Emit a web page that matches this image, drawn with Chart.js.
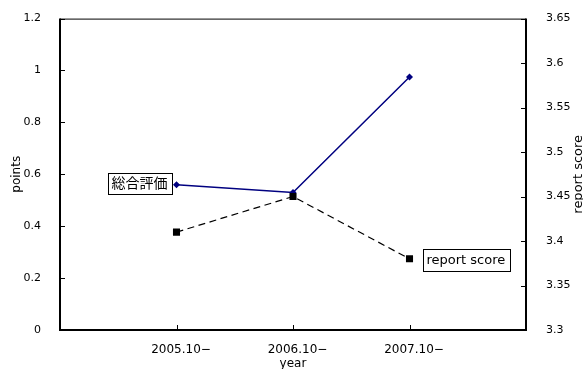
<!DOCTYPE html>
<html>
<head>
<meta charset="utf-8">
<script src="https://cdn.jsdelivr.net/npm/chart.js@4/dist/chart.umd.min.js"></script>
<style>
  html, body { margin: 0; padding: 0; background: #fff; }
  #wrap { width: 583px; height: 369px; }
</style>
</head>
<body>
<div id="wrap"><canvas id="c" width="583" height="369"></canvas></div>
<script>
// Survey years on the horizontal axis
const categories = ['2005.10\u2212', '2006.10\u2212', '2007.10\u2212'];
// Overall evaluation (left axis, points)
const overallValues = [0.56, 0.53, 0.975];
// Report score (right axis)
const reportValues = [3.41, 3.45, 3.38];
// Axis tick labels
const leftTicks = [0, 0.2, 0.4, 0.6, 0.8, 1, 1.2];
const rightTicks = [3.3, 3.35, 3.4, 3.45, 3.5, 3.55, 3.6, 3.65];

const overallName = '総合評価';
const reportName = 'report score';

const FONT = 'DejaVu Sans, "Noto Sans CJK JP", sans-serif';

const toPoints = vals => vals.map((v, i) => ({ x: i + 1, y: v }));

// Frame, inner tick marks, axis titles and boxed series labels
const decor = {
  id: 'decor',
  beforeDatasetsDraw(chart) {
    const ctx = chart.ctx;
    const a = chart.chartArea;
    const sx = chart.scales.x, sy = chart.scales.y, sy2 = chart.scales.y2;
    ctx.save();
    ctx.strokeStyle = '#000';
    // top edge (thin)
    ctx.lineWidth = 1;
    ctx.beginPath();
    ctx.moveTo(a.left, a.top + 0.5);
    ctx.lineTo(a.right, a.top + 0.5);
    ctx.stroke();
    // left, bottom, right edges
    ctx.lineWidth = 2;
    ctx.beginPath();
    ctx.moveTo(a.left, a.top);
    ctx.lineTo(a.left, a.bottom);
    ctx.lineTo(a.right, a.bottom);
    ctx.lineTo(a.right, a.top);
    ctx.stroke();
    // tick marks pointing into the plot
    ctx.lineWidth = 1;
    ctx.beginPath();
    sy.ticks.forEach(t => {
      const p = Math.round(sy.getPixelForValue(t.value)) + 0.5;
      ctx.moveTo(a.left, p); ctx.lineTo(a.left + 5, p);
    });
    sy2.ticks.forEach(t => {
      const p = Math.round(sy2.getPixelForValue(t.value)) + 0.5;
      ctx.moveTo(a.right, p); ctx.lineTo(a.right - 5, p);
    });
    sx.ticks.forEach(t => {
      const p = Math.round(sx.getPixelForValue(t.value)) + 0.5;
      ctx.moveTo(p, a.bottom); ctx.lineTo(p, a.bottom - 5);
    });
    ctx.stroke();

    // axis titles
    ctx.fillStyle = '#000';
    ctx.textAlign = 'center';
    ctx.textBaseline = 'middle';
    ctx.font = '12px ' + FONT;
    ctx.fillText('year', (a.left + a.right) / 2, 364);
    ctx.save();
    ctx.translate(17, (a.top + a.bottom) / 2);
    ctx.rotate(-Math.PI / 2);
    ctx.fillText('points', 0, 0);
    ctx.restore();
    ctx.save();
    ctx.font = '13px ' + FONT;
    ctx.translate(579, (a.top + a.bottom) / 2);
    ctx.rotate(-Math.PI / 2);
    ctx.fillText('report score', 0, 0);
    ctx.restore();
    ctx.restore();
  },
  afterDatasetsDraw(chart) {
    const ctx = chart.ctx;
    const sx = chart.scales.x, sy = chart.scales.y, sy2 = chart.scales.y2;
    const box = (text, font, anchorX, cy, side, gap, h) => {
      ctx.font = font;
      const w = ctx.measureText(text).width + 8;
      const x0 = side === 'left' ? anchorX - gap - w : anchorX + gap;
      const y0 = cy - h / 2;
      ctx.fillStyle = '#fff';
      ctx.fillRect(x0, y0, w, h);
      ctx.strokeStyle = '#000';
      ctx.lineWidth = 1;
      ctx.strokeRect(Math.round(x0) + 0.5, Math.round(y0) + 0.5, Math.round(w), Math.round(h));
      ctx.fillStyle = '#000';
      ctx.textAlign = 'center';
      ctx.textBaseline = 'middle';
      ctx.fillText(text, x0 + w / 2, cy + 1);
    };
    ctx.save();
    box(overallName, '14px ' + FONT,
        sx.getPixelForValue(1), sy.getPixelForValue(overallValues[0]) - 1.5, 'left', 5, 21);
    box(reportName, '13px ' + FONT,
        sx.getPixelForValue(3), sy2.getPixelForValue(reportValues[2]) + 1, 'right', 13, 22);
    ctx.restore();
  }
};

new Chart(document.getElementById('c'), {
  type: 'line',
  data: {
    datasets: [
      {
        label: reportName,
        data: toPoints(reportValues),
        yAxisID: 'y2',
        borderColor: '#000',
        backgroundColor: '#000',
        borderWidth: 1.2,
        borderDash: [7, 4.5],
        pointStyle: 'rect',
        pointRadius: 5,
        pointBorderWidth: 0,
        tension: 0
      },
      {
        label: overallName,
        data: toPoints(overallValues),
        yAxisID: 'y',
        borderColor: '#000080',
        backgroundColor: '#000080',
        borderWidth: 1.5,
        pointStyle: 'rectRot',
        pointRadius: 3.5,
        pointBorderWidth: 0,
        tension: 0
      }
    ]
  },
  options: {
    responsive: false,
    animation: false,
    layout: { padding: { top: 16, left: 0, right: 0, bottom: 0 } },
    plugins: { legend: { display: false }, tooltip: { enabled: false } },
    scales: {
      x: {
        type: 'linear',
        position: 'bottom',
        min: 0,
        max: 4,
        afterBuildTicks: s => { s.ticks = categories.map((c, i) => ({ value: i + 1 })); },
        afterFit: s => { s.height = 39; },
        grid: { display: false },
        border: { display: false },
        ticks: {
          padding: 5,
          labelOffset: 4.5,
          maxRotation: 0,
          autoSkip: false,
          color: '#000',
          font: { family: FONT, size: 12 },
          callback: v => categories[v - 1]
        }
      },
      y: {
        type: 'linear',
        position: 'left',
        min: leftTicks[0],
        max: leftTicks[leftTicks.length - 1],
        afterBuildTicks: s => { s.ticks = leftTicks.map(v => ({ value: v })); },
        afterFit: s => { s.width = 60; },
        grid: { display: false },
        border: { display: false },
        ticks: {
          padding: 11,
          color: '#000',
          font: { family: FONT, size: 11 },
          callback: v => String(v)
        }
      },
      y2: {
        type: 'linear',
        position: 'right',
        min: rightTicks[0],
        max: rightTicks[rightTicks.length - 1],
        afterBuildTicks: s => { s.ticks = rightTicks.map(v => ({ value: v })); },
        afterFit: s => { s.width = 57; },
        grid: { display: false },
        border: { display: false },
        ticks: {
          padding: 12,
          color: '#000',
          font: { family: FONT, size: 11 },
          callback: v => String(v)
        }
      }
    }
  },
  plugins: [decor]
});
</script>
</body>
</html>
